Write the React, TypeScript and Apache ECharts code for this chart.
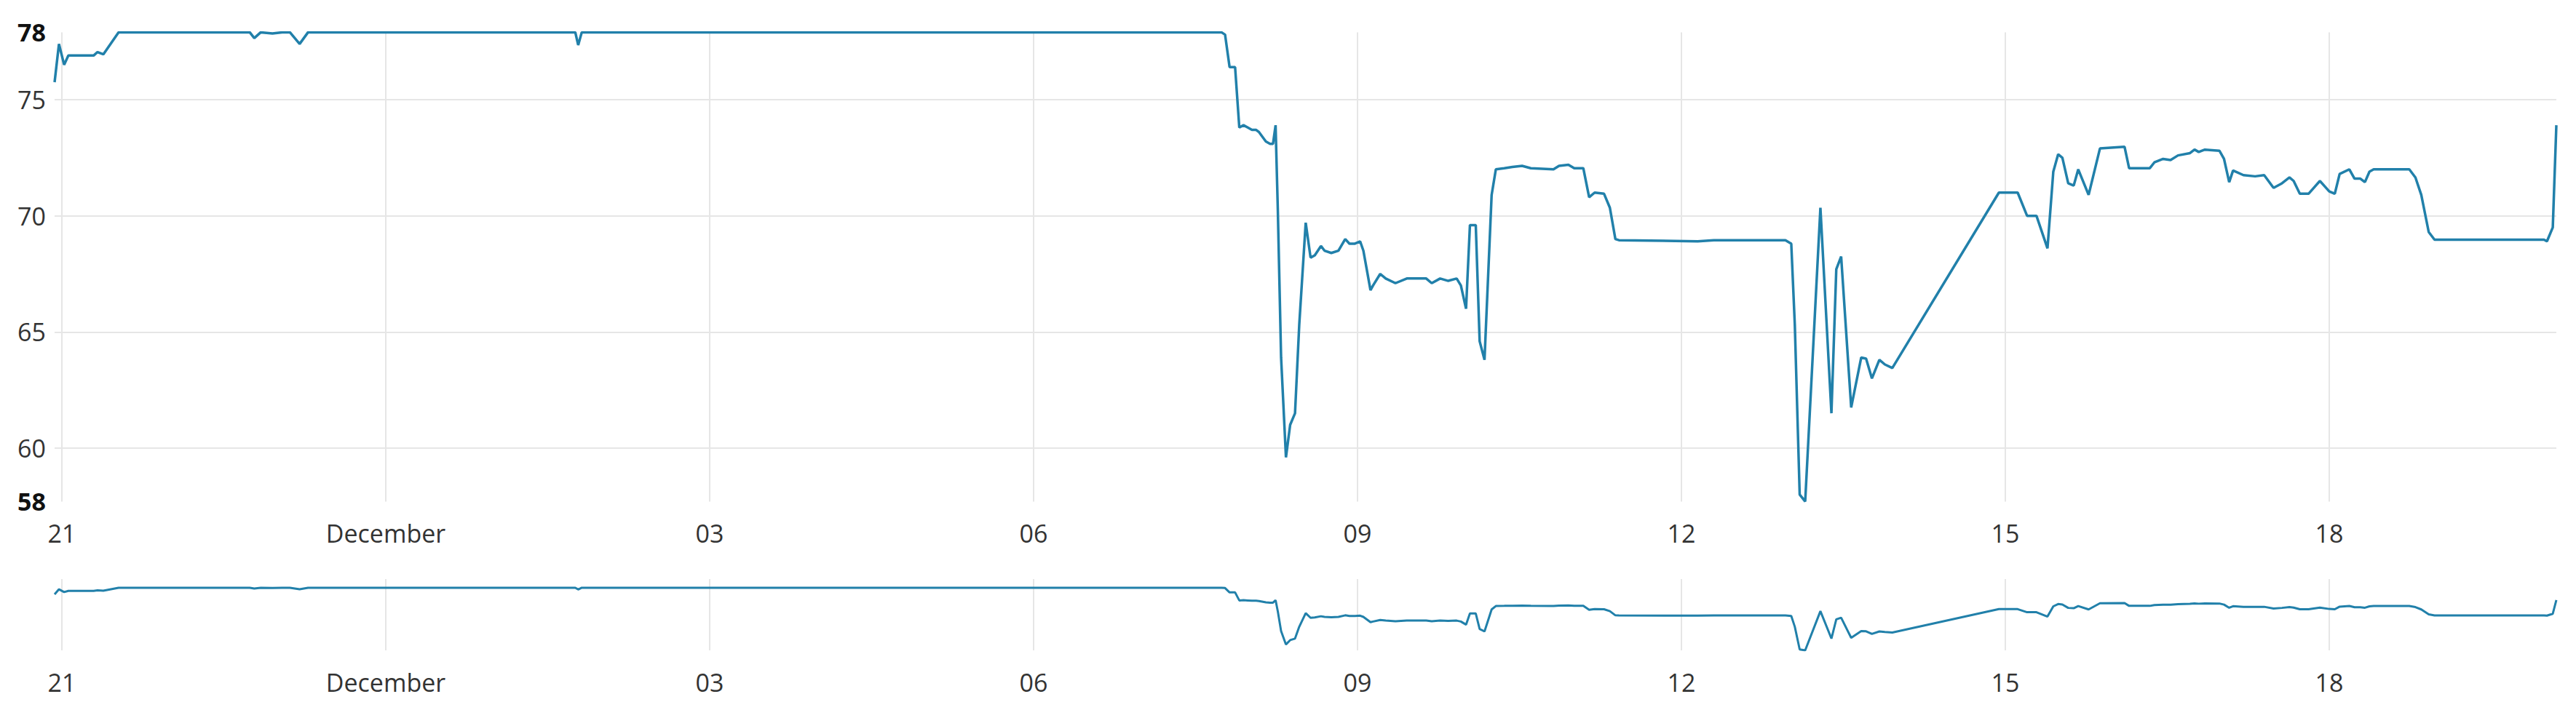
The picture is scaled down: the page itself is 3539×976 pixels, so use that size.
import React, { useEffect, useRef } from 'react';
import * as echarts from 'echarts';

// Ordinal time position (one unit = one labelled tick interval of the ordinal axis)
const ordinalTime = [
  -0.0225, -0.009, 0.007, 0.02, 0.098, 0.11, 0.128, 0.175, 0.58, 0.594, 0.614, 0.65, 0.68, 0.704, 0.734, 0.76,
  1.585, 1.594, 1.605, 3.58, 3.591, 3.605, 3.622, 3.635, 3.648, 3.661, 3.674, 3.687, 3.696, 3.717, 3.73, 3.739,
  3.747, 3.754, 3.764, 3.779, 3.792, 3.807, 3.82, 3.84, 3.855, 3.868, 3.887, 3.898, 3.919, 3.941, 3.962, 3.975,
  3.992, 4.008, 4.018, 4.04, 4.048, 4.07, 4.087, 4.117, 4.152, 4.186, 4.212, 4.229, 4.255, 4.28, 4.306, 4.319,
  4.335, 4.347, 4.365, 4.377, 4.392, 4.414, 4.427, 4.453, 4.478, 4.508, 4.535, 4.605, 4.622, 4.651, 4.669, 4.697,
  4.715, 4.732, 4.761, 4.779, 4.796, 4.807, 5.05, 5.1, 5.321, 5.339, 5.35, 5.365, 5.382, 5.429, 5.463, 5.478,
  5.493, 5.524, 5.555, 5.57, 5.588, 5.611, 5.628, 5.651, 5.98, 6.038, 6.067, 6.096, 6.13, 6.148, 6.163, 6.176,
  6.194, 6.211, 6.225, 6.257, 6.292, 6.368, 6.382, 6.446, 6.46, 6.487, 6.51, 6.533, 6.57, 6.584, 6.597, 6.616,
  6.661, 6.675, 6.691, 6.703, 6.735, 6.771, 6.799, 6.828, 6.854, 6.877, 6.89, 6.909, 6.936, 6.971, 7.0, 7.017,
  7.032, 7.062, 7.078, 7.096, 7.11, 7.124, 7.137, 7.247, 7.266, 7.284, 7.307, 7.325, 7.663, 7.672, 7.69, 7.701,
];

const readings = [
  75.75, 77.4, 76.5, 76.9, 76.9, 77.05, 76.95, 77.9, 77.9, 77.65, 77.9, 77.85, 77.9, 77.9, 77.4, 77.9,
  77.9, 77.35, 77.9, 77.9, 77.8, 76.4, 76.4, 73.8, 73.9, 73.8, 73.7, 73.7, 73.6, 73.2, 73.1, 73.1,
  73.9, 70.2, 63.9, 59.6, 61.0, 61.5, 65.3, 69.7, 68.2, 68.3, 68.7, 68.5, 68.4, 68.5, 69.0, 68.8,
  68.8, 68.9, 68.5, 66.8, 67.0, 67.5, 67.3, 67.1, 67.3, 67.3, 67.3, 67.1, 67.3, 67.2, 67.3, 67.0,
  66.0, 69.6, 69.6, 64.6, 63.8, 70.9, 72.0, 72.05, 72.1, 72.15, 72.05, 72.0, 72.15, 72.2, 72.05, 72.05,
  70.8, 71.0, 70.95, 70.35, 69.0, 68.95, 68.9, 68.95, 68.95, 68.8, 65.3, 58.0, 57.7, 70.35, 61.5, 67.7,
  68.25, 61.75, 63.9, 63.85, 63.0, 63.8, 63.6, 63.45, 71.0, 71.0, 70.0, 70.0, 68.6, 71.9, 72.65, 72.5,
  71.4, 71.3, 72.0, 70.9, 72.9, 72.97, 72.05, 72.05, 72.3, 72.45, 72.4, 72.6, 72.7, 72.85, 72.75, 72.85,
  72.8, 72.45, 71.45, 71.95, 71.75, 71.7, 71.75, 71.2, 71.4, 71.65, 71.5, 70.95, 70.95, 71.5, 71.05, 70.95,
  71.8, 72.0, 71.6, 71.6, 71.45, 71.9, 72.0, 72.0, 71.65, 70.9, 69.3, 68.97, 68.97, 68.9, 69.5, 73.9,
];

const xTickValues = [0, 1, 2, 3, 4, 5, 6, 7];
const xTickLabels = ['21', 'December', '03', '06', '09', '12', '15', '18'];
const yTickValues = [60, 65, 70, 75];
const yMin = 57.7;
const yMax = 77.9;

export default function App() {
  const ref = useRef<HTMLDivElement>(null);

  useEffect(() => {
    const chart = echarts.init(ref.current!, null, { renderer: 'svg' });
    const data = ordinalTime.map((t, i) => [t, readings[i]]);
    const font = '"Open Sans", "Noto Sans", sans-serif';
    const lineColor = '#2180aa';
    const gridColor = '#e6e6e6';
    const xFmt = (v: number) => {
      const i = xTickValues.findIndex((t) => Math.abs(t - v) < 1e-6);
      return i >= 0 ? xTickLabels[i] : '';
    };
    const isExtreme = (v: number) => Math.abs(v - yMin) < 1e-6 || Math.abs(v - yMax) < 1e-6;
    const xMin = ordinalTime[0];
    const xMax = ordinalTime[ordinalTime.length - 1];

    chart.setOption({
      animation: false,
      backgroundColor: '#ffffff',
      grid: [
        { left: 75, right: 27, top: 44.4, height: 645 },
        { left: 75, right: 27, top: 796, height: 98 },
      ],
      xAxis: [
        {
          type: 'value',
          gridIndex: 0,
          min: xMin,
          max: xMax,
          axisLine: { show: false },
          axisTick: { show: false, customValues: xTickValues },
          axisLabel: {
            customValues: xTickValues,
            formatter: xFmt,
            fontSize: 34,
            fontFamily: font,
            color: '#333',
            margin: 27,
          },
          splitLine: { show: true, lineStyle: { color: gridColor, width: 2 } },
        },
        {
          type: 'value',
          gridIndex: 1,
          min: xMin,
          max: xMax,
          axisLine: { show: false },
          axisTick: { show: false, customValues: xTickValues },
          axisLabel: {
            customValues: xTickValues,
            formatter: xFmt,
            fontSize: 34,
            fontFamily: font,
            color: '#333',
            margin: 27,
          },
          splitLine: { show: true, lineStyle: { color: gridColor, width: 2 } },
        },
      ],
      yAxis: [
        {
          type: 'value',
          gridIndex: 0,
          min: yMin,
          max: yMax,
          axisLine: { show: false },
          axisTick: { show: false, customValues: yTickValues },
          axisLabel: {
            customValues: [yMin, ...yTickValues, yMax],
            formatter: (v: number) => (isExtreme(v) ? `{b|${Math.round(v)}}` : String(v)),
            fontSize: 34,
            fontFamily: font,
            color: '#333',
            margin: 12,
            rich: { b: { fontWeight: 'bold', color: '#111', fontSize: 34, fontFamily: font } },
          },
          splitLine: { show: true, lineStyle: { color: gridColor, width: 2 } },
        },
        {
          type: 'value',
          gridIndex: 1,
          min: yMin,
          max: 80.7,
          show: false,
          splitLine: { show: false },
        },
      ],
      series: [
        {
          type: 'line',
          xAxisIndex: 0,
          yAxisIndex: 0,
          data,
          showSymbol: false,
          lineStyle: { color: lineColor, width: 3.5 },
          itemStyle: { color: lineColor },
        },
        {
          type: 'line',
          xAxisIndex: 1,
          yAxisIndex: 1,
          data,
          showSymbol: false,
          lineStyle: { color: lineColor, width: 3 },
          itemStyle: { color: lineColor },
        },
      ],
    });

    return () => chart.dispose();
  }, []);

  return (
    <div
      ref={ref}
      style={{ position: 'fixed', left: 0, top: 0, width: 3539, height: 976, background: '#fff' }}
    />
  );
}
